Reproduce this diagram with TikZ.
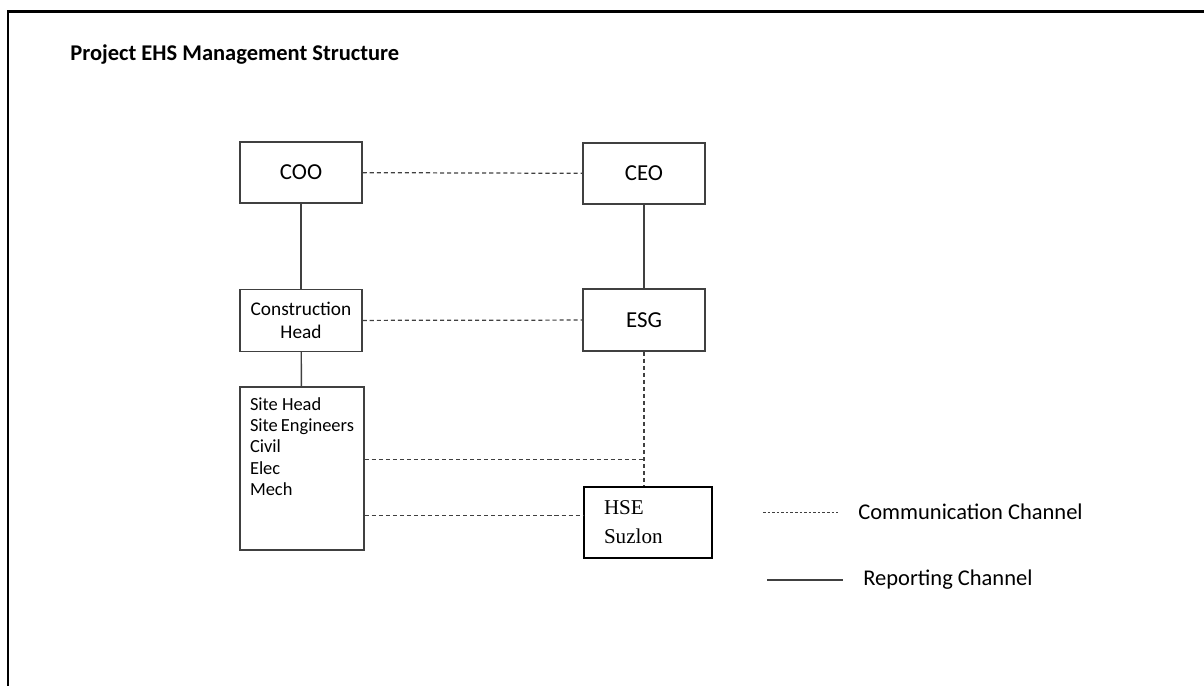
\documentclass[tikz,border=0pt]{standalone}
\usepackage{fontspec}
\setmainfont{Carlito}
\newfontfamily\timesfont{Liberation Serif}
\usepackage{xcolor}
\usepackage{tikz}
\usetikzlibrary{positioning, calc}

\definecolor{boxline}{HTML}{404040}

\begin{document}
\begin{tikzpicture}[
            box/.style={draw=boxline, line width=0.8pt, rectangle, minimum width=2.44cm, minimum height=1.22cm, align=center, font=\fontsize{13}{15}\selectfont},
            smallbox/.style={box, font=\fontsize{11}{13.5}\selectfont},
            hsebox/.style={draw=black, line width=1.2pt, rectangle, minimum width=2.56cm, minimum height=1.42cm, inner sep=0pt},
            comm/.style={draw=boxline, line width=0.7pt, dash pattern=on 2.3pt off 1.7pt},
            report/.style={draw=boxline, line width=0.8pt},
            lbl/.style={font=\fontsize{12.8}{15}\selectfont, anchor=west, inner sep=0pt},
            title/.style={font=\fontsize{12.8}{15}\bfseries, anchor=west, inner sep=0pt}
        ]
        \useasboundingbox (0,0) rectangle (24.08,13.72);

        % page frame
        \draw[line width=1.7pt] (0.16,0) |- (24.08,13.48);

        \node[title] (head_title) at (1.4, 12.62) {Project EHS Management Structure};

        % --- Top management ---
        \node[box] (coo) at (6.02, 10.27) {COO};
        \node[box] (ceo) at (12.88, 10.25) {CEO};

        % --- Middle level ---
        \node[smallbox, minimum height=1.24cm] (conhead) at (6.02, 7.31) {Construction\\Head};
        \node[box, minimum height=1.24cm] (esg) at (12.88, 7.32) {ESG};

        % --- Site level ---
        \node[draw=boxline, line width=0.8pt, inner xsep=0.2cm, inner ysep=0.22cm, font=\fontsize{10.5}{12}\selectfont] (site) at (6.04, 4.35)
            {\begin{minipage}[c][2.82cm][t]{2.08cm}Site Head\\Site Engineers\\Civil\\Elec\\Mech\end{minipage}};
        \node[hsebox] (hse) at (12.96, 3.27)
            {\begin{minipage}{1.76cm}\timesfont\fontsize{12}{16.5}\selectfont HSE\\Suzlon\end{minipage}};

        % reporting lines
        \draw[report] (coo) -- (conhead);
        \draw[report] (ceo) -- (esg);
        \draw[report] (conhead) -- (site);

        % communication lines
        \draw[comm] (coo) -- (ceo);
        \draw[comm] (conhead) -- (esg);
        \draw[comm] (esg.south) -- (esg.south |- hse.north);
        \coordinate (jn) at ($(esg.south)+(0,-2.16)$);
        \draw[comm] (site.east |- jn) -- (jn);
        \coordinate (hsein) at ([yshift=0.14cm]hse.west);
        \draw[comm] (site.east |- hsein) -- (hsein);

        % --- Legend ---
        \coordinate (comm_a) at (15.26, 3.48);
        \coordinate (comm_b) at (16.76, 3.48);
        \coordinate (rep_a) at (15.34, 2.12);
        \coordinate (rep_b) at (16.86, 2.12);
        \draw[comm, line width=0.5pt, dash pattern=on 1.5pt off 1.1pt] (comm_a) -- (comm_b);
        \draw[report, line width=0.6pt] (rep_a) -- (rep_b);
        \node[lbl] (comm_lbl) at (17.16, 3.48) {Communication Channel};
        \node[lbl] (rep_lbl) at (17.26, 2.12) {Reporting Channel};

    \end{tikzpicture}
\end{document}
